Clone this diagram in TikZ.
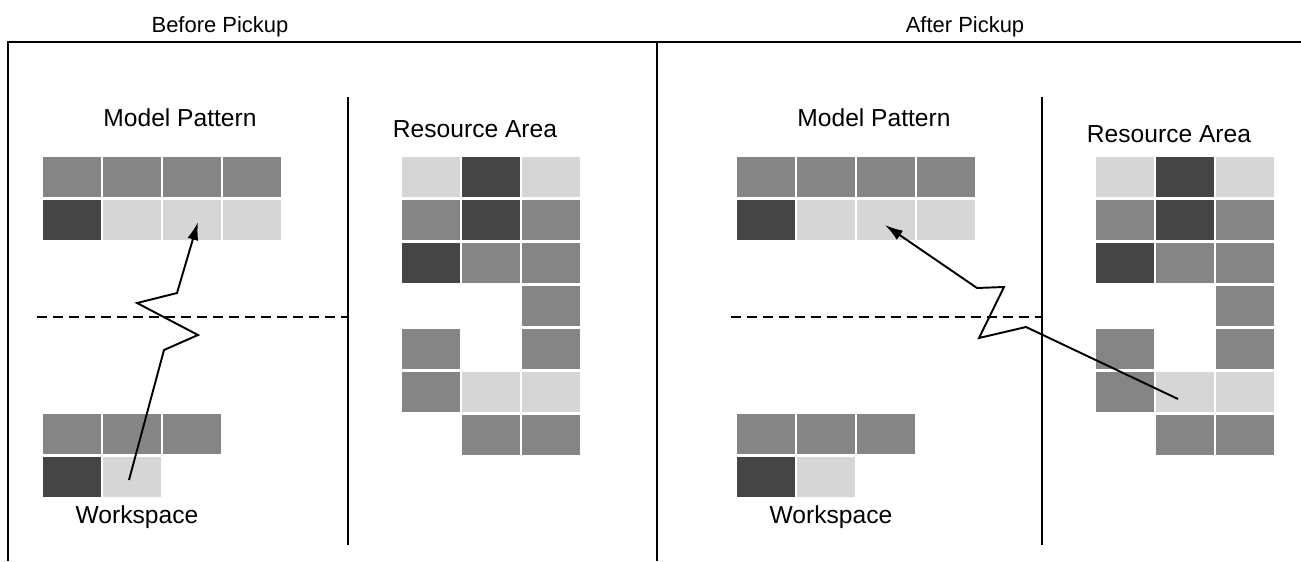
\documentclass[tikz,border=0pt]{standalone}
\usepackage{fontspec}
\setmainfont{Liberation Sans}
\usepackage{tikz}
\usetikzlibrary{arrows.meta}

\definecolor{tilemid}{gray}{0.52}
\definecolor{tiledark}{gray}{0.27}
\definecolor{tilelight}{gray}{0.84}

\begin{document}
\begin{tikzpicture}[x=0.02cm, y=-0.02cm,
  tile/.style={draw=none, inner sep=0pt, minimum width=1.16cm, minimum height=0.8cm},
  mid/.style={tile, fill=tilemid},
  dark/.style={tile, fill=tiledark},
  light/.style={tile, fill=tilelight},
  rule/.style={line width=1.1pt},
  heading/.style={anchor=base, font=\fontsize{12.5}{14}\selectfont},
  areaname/.style={anchor=base, font=\fontsize{14}{16}\selectfont},
  move/.style={line width=1.1pt, line join=miter, -{Latex[length=0.36cm, width=0.22cm]}}
]

\useasboundingbox (0,0) rectangle (1301,561);

% ---- Frame ----
\coordinate (TL) at (8,42);
\coordinate (TR) at (1301,42);
\coordinate (BL) at (8,561);
\coordinate (TM) at (657,42);   % split between the two halves
\coordinate (BM) at (657,561);
\draw[rule] (BL) -- (TL) -- (TR);
\draw[rule] (TM) -- (BM);

% ---- Headings ----
\node[heading] (before) at (220,32) {Before Pickup};
\node[heading] (after) at (965,32) {After Pickup};

% ---- Panels (same layout, shifted) ----
\foreach \p/\dx/\ry in {b/0/137, a/694/142} {
  \begin{scope}[xshift=\dx*0.02cm]
    % divider and dashed line
    \coordinate (\p-divtop) at (348,97);
    \coordinate (\p-divbot) at (348,545);
    \coordinate (\p-dashL) at (37,317);
    \coordinate (\p-dashR) at (348,317);
    \draw[rule] (\p-divtop) -- (\p-divbot);
    \draw[line width=1pt, dash pattern=on 0.2cm off 0.12cm] (\p-dashL) -- (\p-dashR);

    % model pattern
    \foreach \r/\c/\t in {0/0/mid, 0/1/mid, 0/2/mid, 0/3/mid,
                          1/0/dark, 1/1/light, 1/2/light, 1/3/light}
      \node[\t] (\p-mp\r\c) at (72+60*\c, 177+43*\r) {};

    % workspace
    \foreach \r/\c/\t in {0/0/mid, 0/1/mid, 0/2/mid, 1/0/dark, 1/1/light}
      \node[\t] (\p-ws\r\c) at (72+60*\c, 434+43*\r) {};

    % resource area
    \foreach \r/\c/\t in {0/0/light, 0/1/dark, 0/2/light,
                          1/0/mid, 1/1/dark, 1/2/mid,
                          2/0/dark, 2/1/mid, 2/2/mid,
                          3/2/mid,
                          4/0/mid, 4/2/mid,
                          5/0/mid, 5/1/light, 5/2/light,
                          6/1/mid, 6/2/mid}
      \node[\t] (\p-ra\r\c) at (431+60*\c, 177+43*\r) {};

    % names
    \node[areaname] (\p-mplabel) at (180,126) {Model Pattern};
    \node[areaname] (\p-ralabel) at (475,\ry) {Resource Area};
    \node[areaname] (\p-wslabel) at (137,523) {Workspace};
  \end{scope}
}

% ---- Move before pickup (workspace -> pattern) ----
\coordinate (b-k1) at (164,350);
\coordinate (b-k2) at (198,335);
\coordinate (b-k3) at (137,303);
\coordinate (b-k4) at (177,293);
\draw[move] ([shift={(-3,3)}]b-ws11.center) -- (b-k1) -- (b-k2) -- (b-k3) -- (b-k4)
  -- ([shift={(6,2)}]b-mp12.center);

% ---- Move after pickup (resource -> pattern) ----
\coordinate (a-k1) at (1026,327);
\coordinate (a-k2) at (979,338);
\coordinate (a-k3) at (1004,287);
\coordinate (a-k4) at (977,288);
\draw[move] ([shift={(-7,7)}]a-ra51.center) -- (a-k1) -- (a-k2) -- (a-k3) -- (a-k4)
  -- ([shift={(-1,5)}]a-mp12.center);

\end{tikzpicture}
\end{document}
